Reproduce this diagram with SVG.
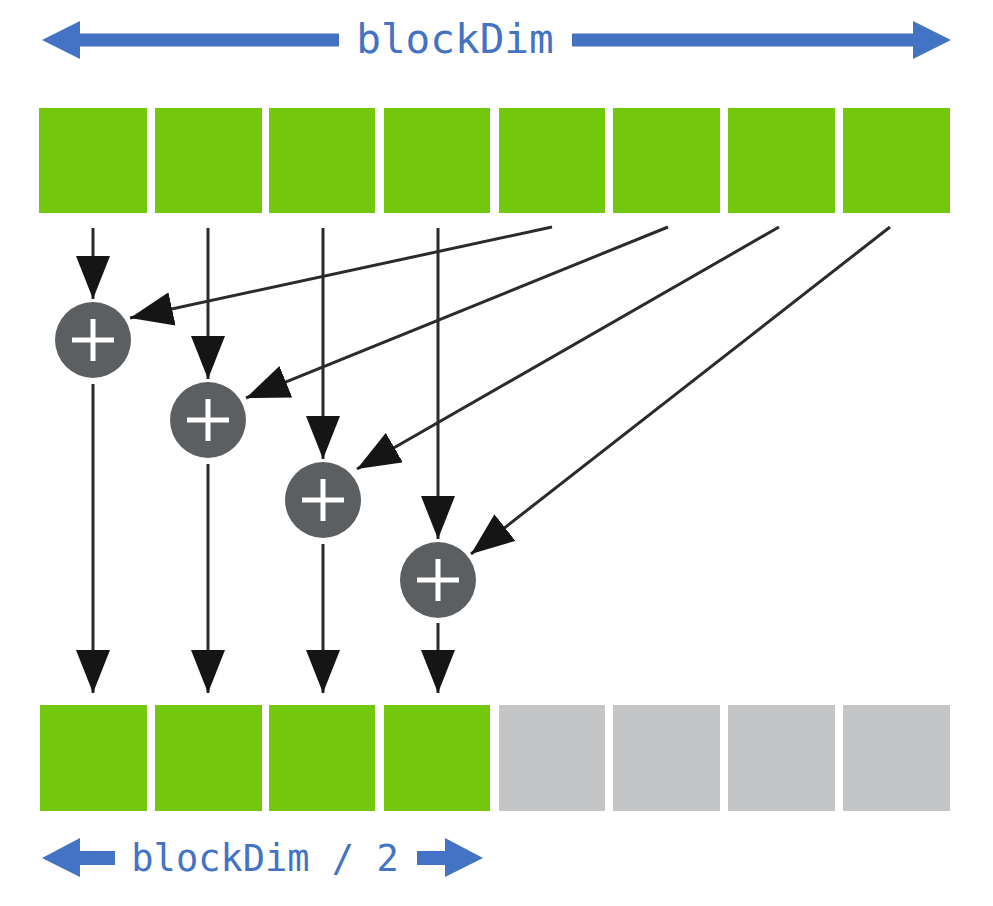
<svg xmlns="http://www.w3.org/2000/svg" width="993" height="906" viewBox="0 0 993 906">
<style>
.g{fill:#73C70C}
.x{fill:#C3C5C7}
.c{fill:#5B5F62}
.p{stroke:#fff;stroke-width:5;fill:none}
.l{stroke:#2B2B2B;stroke-width:3;fill:none;marker-end:url(#ah)}
.b{fill:#4472C4}
.t{fill:#4472C4;font-family:"DejaVu Sans Mono","Liberation Mono",monospace}
</style>
<defs>
<marker id="ah" markerUnits="userSpaceOnUse" markerWidth="44" markerHeight="34" refX="43" refY="17" orient="auto">
<path d="M0,0 L43,17 L0,34 z" fill="#151515"/>
</marker>
</defs>
<rect width="993" height="906" fill="#fff"/>
<g id="blockDim-label">
<path class="b" d="M42,40 L80,21 L80,33.5 L339,33.5 L339,46.5 L80,46.5 L80,59 z"/>
<path class="b" d="M951,40 L913,21 L913,33.5 L572,33.5 L572,46.5 L913,46.5 L913,59 z"/>
<text class="t" x="455" y="53" font-size="41" text-anchor="middle">blockDim</text>
</g>
<g id="input-row">
<rect class="g" x="39" y="108" width="108" height="105"/>
<rect class="g" x="155" y="108" width="107" height="105"/>
<rect class="g" x="269" y="108" width="106" height="105"/>
<rect class="g" x="384" y="108" width="106" height="105"/>
<rect class="g" x="499" y="108" width="106" height="105"/>
<rect class="g" x="613" y="108" width="107" height="105"/>
<rect class="g" x="728" y="108" width="107" height="105"/>
<rect class="g" x="843" y="108" width="107" height="105"/>
</g>
<g id="output-row">
<rect class="g" x="40" y="705" width="107" height="106"/>
<rect class="g" x="155" y="705" width="107" height="106"/>
<rect class="g" x="269" y="705" width="106" height="106"/>
<rect class="g" x="384" y="705" width="106" height="106"/>
<rect class="x" x="499" y="705" width="106" height="106"/>
<rect class="x" x="613" y="705" width="107" height="106"/>
<rect class="x" x="728" y="705" width="107" height="106"/>
<rect class="x" x="843" y="705" width="107" height="106"/>
</g>
<g id="connectors">
<line class="l" x1="93" y1="228" x2="93" y2="299"/>
<line class="l" x1="208" y1="228" x2="208" y2="379"/>
<line class="l" x1="323" y1="228" x2="323" y2="459"/>
<line class="l" x1="438" y1="228" x2="438" y2="539"/>
<line class="l" x1="552" y1="227" x2="130" y2="318"/>
<line class="l" x1="668" y1="227" x2="246" y2="398"/>
<line class="l" x1="779" y1="227" x2="357" y2="469"/>
<line class="l" x1="890" y1="227" x2="471" y2="554"/>
<line class="l" x1="93" y1="384" x2="93" y2="693"/>
<line class="l" x1="208" y1="464" x2="208" y2="693"/>
<line class="l" x1="323" y1="544" x2="323" y2="693"/>
<line class="l" x1="438" y1="623" x2="438" y2="693"/>
</g>
<g id="add1">
<circle class="c" cx="93" cy="340" r="38"/>
<path class="p" d="M72,340 H114 M93,319 V361"/>
</g>
<g id="add2">
<circle class="c" cx="208" cy="420" r="38"/>
<path class="p" d="M187,420 H229 M208,399 V441"/>
</g>
<g id="add3">
<circle class="c" cx="323" cy="500" r="38"/>
<path class="p" d="M302,500 H344 M323,479 V521"/>
</g>
<g id="add4">
<circle class="c" cx="438" cy="580" r="38"/>
<path class="p" d="M417,580 H459 M438,559 V601"/>
</g>
<g id="half-label">
<path class="b" d="M42,858 L80,838 L80,851 L115,851 L115,865 L80,865 L80,877 z"/>
<path class="b" d="M483,858 L445,838 L445,851 L417,851 L417,865 L445,865 L445,877 z"/>
<text class="t" x="265" y="871" font-size="37" text-anchor="middle">blockDim / 2</text>
</g>
</svg>
